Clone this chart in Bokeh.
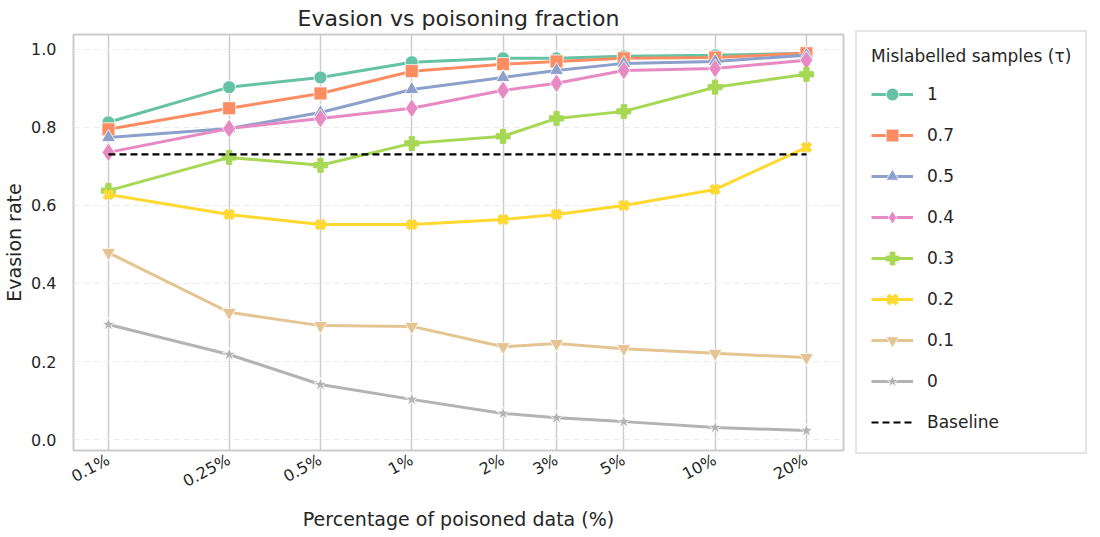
import math
from bokeh.plotting import figure
from bokeh.models import FixedTicker, Legend, LegendItem, NumeralTickFormatter, Range1d
from bokeh.embed import file_html
from bokeh.resources import INLINE

x_vals = [0.1, 0.25, 0.5, 1, 2, 3, 5, 10, 20]
x_labels = ["0.1%", "0.25%", "0.5%", "1%", "2%", "3%", "5%", "10%", "20%"]

tau_labels = ["1", "0.7", "0.5", "0.4", "0.3", "0.2", "0.1", "0"]
tau_1 = [0.813, 0.903, 0.928, 0.967, 0.977, 0.977, 0.982, 0.985, 0.990]
tau_07 = [0.795, 0.849, 0.887, 0.944, 0.962, 0.969, 0.977, 0.979, 0.990]
tau_05 = [0.774, 0.797, 0.838, 0.897, 0.928, 0.946, 0.964, 0.969, 0.985]
tau_04 = [0.736, 0.797, 0.823, 0.849, 0.895, 0.913, 0.946, 0.951, 0.972]
tau_03 = [0.638, 0.723, 0.703, 0.759, 0.777, 0.823, 0.841, 0.903, 0.936]
tau_02 = [0.628, 0.577, 0.551, 0.551, 0.564, 0.577, 0.600, 0.641, 0.749]
tau_01 = [0.479, 0.326, 0.292, 0.290, 0.238, 0.246, 0.233, 0.221, 0.210]
tau_0 = [0.295, 0.218, 0.141, 0.103, 0.067, 0.056, 0.046, 0.031, 0.023]
baseline = 0.731

series = [tau_1, tau_07, tau_05, tau_04, tau_03, tau_02, tau_01, tau_0]
colors = ["#66c2a5", "#fc8d62", "#8da0cb", "#e78ac3", "#a6d854", "#ffd92f", "#e5c494", "#b3b3b3"]
markers = ["circle", "square", "triangle", "diamond", "plus", "x", "inverted_triangle", "star"]
sizes = [13, 13, 14, 19, 14, 12, 14, 14]

FONT = "DejaVu Sans"
TXT = "#262626"

p = figure(frame_width=770, frame_height=416, x_axis_type="log",
           x_range=Range1d(0.0767, 26.5), y_range=Range1d(-0.028, 1.038),
           output_backend="svg", toolbar_location=None,
           title="Evasion vs poisoning fraction",
           min_border_left=62, min_border_right=0, min_border_top=0, min_border_bottom=0)

p.title.text_font = FONT
p.title.text_font_size = "22px"
p.title.text_font_style = "normal"
p.title.align = "center"
p.title.text_color = TXT
p.title.standoff = 7

p.outline_line_color = "#cccccc"
p.outline_line_width = 2

p.xaxis.ticker = FixedTicker(ticks=x_vals)
p.xaxis.major_label_overrides = {v: l for v, l in zip(x_vals, x_labels)}
p.xaxis.major_label_orientation = math.radians(28)
p.yaxis.ticker = FixedTicker(ticks=[0.0, 0.2, 0.4, 0.6, 0.8, 1.0])
p.yaxis.formatter = NumeralTickFormatter(format="0.0")

for ax in [p.xaxis[0], p.yaxis[0]]:
    ax.axis_line_color = None
    ax.major_tick_line_color = None
    ax.minor_tick_line_color = None
    ax.major_label_text_font = FONT
    ax.major_label_text_font_size = "16px"
    ax.major_label_text_color = TXT
    ax.axis_label_text_font = FONT
    ax.axis_label_text_font_size = "19px"
    ax.axis_label_text_font_style = "normal"
    ax.axis_label_text_color = TXT

p.xaxis.major_label_text_align = "right"
p.xaxis.axis_label = "Percentage of poisoned data (%)"
p.yaxis.axis_label = "Evasion rate"
p.xaxis.major_label_standoff = 2
p.xaxis.axis_label_standoff = 6
p.yaxis.major_label_standoff = 11
p.yaxis.axis_label_standoff = 3

p.xgrid.grid_line_color = "#cccccc"
p.xgrid.grid_line_width = 1.5
p.ygrid.grid_line_color = "#ebebeb"
p.ygrid.grid_line_dash = "6 4"
p.ygrid.grid_line_width = 1.2

items = []
for lab, ys, c, m, s in zip(tau_labels, series, colors, markers, sizes):
    r1 = p.line(x_vals, ys, line_color=c, line_width=3)
    if m == "x":
        r2 = p.scatter(x_vals, ys, marker=m, size=s, line_color=c, line_width=4.5)
    elif m == "plus":
        r2 = p.scatter(x_vals, ys, marker=m, size=s, fill_color=c, line_color=c, line_width=1)
    else:
        r2 = p.scatter(x_vals, ys, marker=m, size=s, fill_color=c, line_color="white", line_width=0.8)
    items.append(LegendItem(label=lab, renderers=[r1, r2]))

rb = p.line([x_vals[0], x_vals[-1]], [baseline, baseline], line_color="black", line_width=2.2, line_dash="7 4")
items.append(LegendItem(label="Baseline", renderers=[rb]))

legend = Legend(items=items, title="Mislabelled samples (τ)", location="left")
legend.title_text_font = FONT
legend.title_text_font_size = "17px"
legend.title_text_font_style = "normal"
legend.title_text_color = TXT
legend.title_standoff = 12
legend.label_text_font = FONT
legend.label_text_font_size = "17px"
legend.label_text_color = TXT
legend.glyph_width = 42
legend.glyph_height = 32
legend.label_standoff = 14
legend.spacing = 9
legend.padding = 14
legend.margin = 12
legend.border_line_color = "#cccccc"
legend.border_line_width = 2
p.add_layout(legend, "right")

open("out.html", "w").write(file_html(p, INLINE))
